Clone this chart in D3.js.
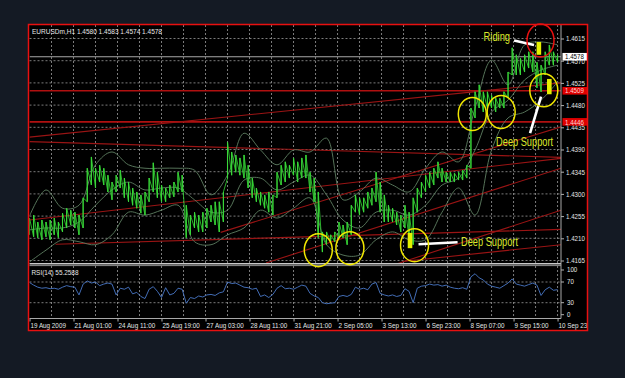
<!DOCTYPE html>
<html>
<head>
<meta charset="utf-8">
<script src="https://cdn.jsdelivr.net/npm/d3@7"></script>
<style>
  body { margin: 0; background: #141a24; }
  svg { display: block; }
</style>
</head>
<body>
<svg id="chart" width="625" height="378"></svg>
<script>
// ---- data ----
const symbol = 'EURUSDm,H1'
const lastOhlc = [1.4580, 1.4583, 1.4574, 1.4578]
const rsiTitle = 'RSI(14) 55.2588'

const dateLabels = ['19 Aug 2009', '21 Aug 01:00', '24 Aug 11:00', '25 Aug 19:00', '27 Aug 03:00',
  '28 Aug 11:00', '31 Aug 21:00', '2 Sep 05:00', '3 Sep 13:00', '6 Sep 23:00', '8 Sep 07:00',
  '9 Sep 15:00', '10 Sep 23:00']
const priceTicks = [1.4165, 1.4210, 1.4255, 1.4300, 1.4345, 1.4390, 1.4435, 1.4480, 1.4525, 1.4570, 1.4615]
const rsiTicks = [0, 30, 70, 100]

// H1 bars, one sample every 3 bars
const barHigh = [
  1.4251, 1.4257, 1.4243, 1.4247, 1.4243, 1.4247, 1.4251, 1.4243, 1.4261, 1.4271,
  1.4267, 1.4263, 1.4257, 1.4292, 1.4352, 1.4375, 1.4352, 1.4358, 1.4352, 1.4338,
  1.4324, 1.4338, 1.4348, 1.4332, 1.4324, 1.4312, 1.4304, 1.4298, 1.4304, 1.4332,
  1.4363, 1.4344, 1.4318, 1.4312, 1.4318, 1.4324, 1.4344, 1.4338, 1.4277, 1.4257,
  1.4263, 1.4257, 1.4263, 1.4271, 1.4277, 1.4284, 1.4284, 1.4304, 1.4405, 1.4385,
  1.4379, 1.4373, 1.4379, 1.4358, 1.4332, 1.4312, 1.4304, 1.4298, 1.4304, 1.4298,
  1.4344, 1.4358, 1.4365, 1.4358, 1.4373, 1.4365, 1.4373, 1.4379, 1.4344, 1.4332,
  1.4304, 1.4223, 1.4223, 1.4217, 1.4223, 1.4243, 1.4237, 1.4243, 1.4277, 1.4298,
  1.4292, 1.4292, 1.4304, 1.4312, 1.4344, 1.4324, 1.4298, 1.4277, 1.4271, 1.4263,
  1.4257, 1.4277, 1.4263, 1.4292, 1.4312, 1.4324, 1.4338, 1.4344, 1.4352, 1.4365,
  1.4352, 1.4344, 1.4344, 1.4342, 1.4344, 1.4348, 1.4358, 1.4474, 1.4507, 1.4521,
  1.4507, 1.4507, 1.4500, 1.4494, 1.4494, 1.4507, 1.4547, 1.4596, 1.4582, 1.4575,
  1.4582, 1.4588, 1.4588, 1.4567, 1.4561, 1.4588, 1.4602, 1.4588, 1.4582]
const barLow = [
  1.4217, 1.4213, 1.4211, 1.4207, 1.4213, 1.4207, 1.4217, 1.4211, 1.4223, 1.4231,
  1.4237, 1.4231, 1.4217, 1.4231, 1.4284, 1.4318, 1.4312, 1.4324, 1.4318, 1.4304,
  1.4288, 1.4304, 1.4312, 1.4292, 1.4284, 1.4277, 1.4271, 1.4261, 1.4257, 1.4284,
  1.4304, 1.4292, 1.4284, 1.4284, 1.4292, 1.4294, 1.4304, 1.4304, 1.4211, 1.4217,
  1.4231, 1.4223, 1.4223, 1.4231, 1.4243, 1.4237, 1.4223, 1.4243, 1.4332, 1.4338,
  1.4344, 1.4338, 1.4332, 1.4312, 1.4292, 1.4284, 1.4277, 1.4271, 1.4263, 1.4257,
  1.4292, 1.4318, 1.4324, 1.4332, 1.4338, 1.4324, 1.4332, 1.4332, 1.4304, 1.4284,
  1.4211, 1.4182, 1.4197, 1.4203, 1.4203, 1.4211, 1.4211, 1.4197, 1.4217, 1.4263,
  1.4257, 1.4263, 1.4271, 1.4277, 1.4284, 1.4263, 1.4243, 1.4243, 1.4243, 1.4237,
  1.4223, 1.4231, 1.4211, 1.4197, 1.4263, 1.4292, 1.4304, 1.4312, 1.4318, 1.4332,
  1.4324, 1.4324, 1.4324, 1.4324, 1.4328, 1.4328, 1.4332, 1.4352, 1.4454, 1.4474,
  1.4466, 1.4474, 1.4474, 1.4466, 1.4474, 1.4474, 1.4494, 1.4541, 1.4541, 1.4541,
  1.4547, 1.4555, 1.4547, 1.4515, 1.4507, 1.4541, 1.4561, 1.4561, 1.4567]

// Bollinger bands, one sample every 12 bars
const bandUpper = [1.4255, 1.4308, 1.4271, 1.4277, 1.4359, 1.4385, 1.4359, 1.4352, 1.4352, 1.4352, 1.4348,
  1.4298, 1.4338, 1.4423, 1.4389, 1.4359, 1.4389, 1.4385, 1.4413, 1.4288, 1.4304, 1.4332,
  1.4318, 1.4304, 1.4352, 1.4385, 1.4365, 1.4474, 1.4571, 1.4521, 1.4602, 1.4608, 1.4602]
const bandMiddle = [1.4227, 1.4231, 1.4231, 1.4243, 1.4277, 1.4308, 1.4324, 1.4308, 1.4312, 1.4312, 1.4288,
  1.4263, 1.4267, 1.4328, 1.4332, 1.4308, 1.4324, 1.4338, 1.4298, 1.4247, 1.4231, 1.4263,
  1.4267, 1.4257, 1.4277, 1.4318, 1.4332, 1.4389, 1.4466, 1.4490, 1.4531, 1.4551, 1.4561]
const bandLower = [1.4162, 1.4186, 1.4207, 1.4203, 1.4197, 1.4217, 1.4263, 1.4257, 1.4267, 1.4277, 1.4203,
  1.4197, 1.4217, 1.4231, 1.4267, 1.4251, 1.4271, 1.4292, 1.4197, 1.4176, 1.4176, 1.4207,
  1.4223, 1.4207, 1.4207, 1.4263, 1.4312, 1.4257, 1.4389, 1.4454, 1.4466, 1.4490, 1.4527]

// RSI(14), same sampling as the bars
const rsiValues = [
  69, 64, 60, 58, 59, 57, 58, 56, 60, 63, 61, 60, 45, 66, 72, 68, 70, 63, 66, 68,
  66, 45, 58, 56, 60, 47, 50, 42, 38, 56, 61, 52, 40, 59, 45, 48, 58, 56, 29, 40,
  38, 43, 41, 45, 46, 44, 49, 51, 70, 67, 68, 64, 60, 59, 56, 58, 42, 45, 40, 46,
  58, 63, 57, 58, 56, 60, 64, 62, 48, 43, 40, 30, 28, 29, 30, 42, 44, 42, 46, 60,
  56, 58, 55, 66, 69, 48, 45, 43, 45, 42, 44, 57, 52, 30, 58, 62, 63, 66, 64, 65,
  62, 64, 60, 58, 57, 59, 56, 80, 86, 78, 74, 66, 62, 60, 58, 63, 68, 76, 66, 64,
  62, 65, 68, 64, 44, 55, 60, 54, 55.26]

const levels = [1.4509, 1.4446]
const lastPrice = 1.4578

// trend lines: [bar1, price1, bar2, price2]
const trendLines = [
  [0, 1.4415, 386.5, 1.4525],
  [0, 1.4406, 386.5, 1.4374],
  [0, 1.4247, 386.5, 1.4372],
  [19, 1.4198, 386.5, 1.4228],
  [139, 1.4222, 386.5, 1.4436],
  [172, 1.4160, 386.5, 1.4352],
  [268, 1.4159, 386.5, 1.4267],
  [271, 1.4163, 386.5, 1.4197]]

// annotations (bar, price)
const supportCircles = [[210, 1.4186], [233, 1.4190], [280, 1.4196], [322, 1.4462], [343, 1.4466], [374, 1.4510]]
const ridingCircle = [371.6, 1.4611]
const signalBars = [[276.7, 1.4221, 1.4190], [370.4, 1.4608, 1.4582], [378, 1.4533, 1.4502]]
const pointers = [[282.9, 1.4198, 311.3, 1.4202], [352.4, 1.4611, 366.9, 1.4602], [372, 1.4497, 364, 1.4423]]
const notes = [['Riding', 330.2, 1.4610, 26.5], ['Deep Support', 339.3, 1.4398, 57], ['Deep Support', 313.8, 1.4194, 57]]

// ---- layout ----
const FONT = "'Liberation Sans', Arial, sans-serif"
const plotLeft = 29.5, plotRight = 561
const plotTop = 25, mainBottom = 263, rsiTop = 266, rsiBottom = 318.5

let x = d3.scaleLinear().domain([0, 386.5]).range([plotLeft, plotRight])
let y = d3.scaleLinear().domain([1.4165, 1.4615]).range([260.5, 38.5])
let yRsi = d3.scaleLinear().domain([0, 100]).range([318.2, 266.5])

// squeeze small labels to the narrow look of the terminal font
function condense(sel, f) {
  sel.each(function () {
    let w = this.getComputedTextLength()
    d3.select(this).attr('textLength', w * f).attr('lengthAdjust', 'spacingAndGlyphs')
  })
}

let svg = d3.select('#chart')
let defs = svg.append('defs')
defs.append('clipPath').attr('id', 'mainClip')
  .append('rect').attr('x', plotLeft).attr('y', plotTop).attr('width', plotRight - plotLeft).attr('height', mainBottom - plotTop)
defs.append('clipPath').attr('id', 'rsiClip')
  .append('rect').attr('x', plotLeft).attr('y', rsiTop).attr('width', plotRight - plotLeft).attr('height', rsiBottom - rsiTop)
defs.append('clipPath').attr('id', 'frameClip')
  .append('rect').attr('x', 29).attr('y', 25).attr('width', 558).attr('height', 305)

// black chart area
svg.append('rect').attr('x', 28.5).attr('y', 24.5).attr('width', 559).attr('height', 306).attr('fill', '#000')

// grid
let grid = svg.append('g').attr('stroke', '#9a9a9a').attr('stroke-width', 0.8).attr('stroke-dasharray', '2,2')
let gridBars = d3.range(16, 385, 16)
grid.selectAll('.vg').data(gridBars).join('line').attr('class', 'vg')
  .attr('x1', d => x(d)).attr('x2', d => x(d)).attr('y1', plotTop).attr('y2', mainBottom)
grid.selectAll('.vr').data(gridBars).join('line').attr('class', 'vr')
  .attr('x1', d => x(d)).attr('x2', d => x(d)).attr('y1', rsiTop).attr('y2', rsiBottom)
grid.selectAll('.hg').data(priceTicks).join('line').attr('class', 'hg')
  .attr('x1', plotLeft).attr('x2', plotRight).attr('y1', d => y(d)).attr('y2', d => y(d))
grid.selectAll('.hr').data([30, 70]).join('line').attr('class', 'hr')
  .attr('x1', plotLeft).attr('x2', plotRight).attr('y1', d => yRsi(d)).attr('y2', d => yRsi(d))

// main panel
let main = svg.append('g').attr('clip-path', 'url(#mainClip)')

main.append('line')
  .attr('x1', plotLeft).attr('x2', plotRight).attr('y1', y(lastPrice)).attr('y2', y(lastPrice))
  .attr('stroke', '#a8a8a8').attr('stroke-width', 1)

main.selectAll('.lvl').data(levels).join('line').attr('class', 'lvl')
  .attr('x1', plotLeft).attr('x2', plotRight).attr('y1', d => y(d)).attr('y2', d => y(d))
  .attr('stroke', '#b01010').attr('stroke-width', 1.6)

main.selectAll('.trend').data(trendLines).join('line').attr('class', 'trend')
  .attr('x1', d => x(d[0])).attr('y1', d => y(d[1]))
  .attr('x2', d => x(d[2])).attr('y2', d => y(d[3]))
  .attr('stroke', '#9a1414').attr('stroke-width', 1.1)

let bandLine = d3.line()
  .x((d, i) => x(i * 12))
  .y(d => y(d))
  .curve(d3.curveCatmullRom.alpha(0.5))
main.selectAll('.band').data([bandUpper, bandMiddle, bandLower]).join('path').attr('class', 'band')
  .attr('d', bandLine)
  .attr('fill', 'none').attr('stroke', '#5f7f62').attr('stroke-width', 0.9)

// price bars
let bars = barHigh.map((h, i) => ({bar: i * 3, high: h, low: barLow[i]}))
let zig = []
bars.forEach(b => { zig.push([b.bar, b.low]); zig.push([b.bar, b.high]) })
main.append('path')
  .attr('d', d3.line().x(d => x(d[0])).y(d => y(d[1]))(zig))
  .attr('fill', 'none').attr('stroke', '#2fc42f').attr('stroke-width', 0.9)
main.selectAll('.bar').data(bars).join('line').attr('class', 'bar')
  .attr('x1', d => x(d.bar)).attr('x2', d => x(d.bar))
  .attr('y1', d => y(d.high)).attr('y2', d => y(d.low))
  .attr('stroke', '#3ad83a').attr('stroke-width', 1.1)

// RSI
svg.append('g').attr('clip-path', 'url(#rsiClip)')
  .append('path')
  .attr('d', d3.line().x((d, i) => x(i * 3)).y(d => yRsi(d))(rsiValues))
  .attr('fill', 'none').attr('stroke', '#4a78c8').attr('stroke-width', 0.9)

// panel borders
svg.append('line').attr('x1', plotLeft).attr('x2', plotRight).attr('y1', 263.8).attr('y2', 263.8)
  .attr('stroke', '#c8c8c8').attr('stroke-width', 1.6)
svg.append('line').attr('x1', plotLeft).attr('x2', plotRight).attr('y1', 265.6).attr('y2', 265.6)
  .attr('stroke', '#8a8a8a').attr('stroke-width', 1)
svg.append('line').attr('x1', plotLeft).attr('x2', plotRight).attr('y1', rsiBottom).attr('y2', rsiBottom)
  .attr('stroke', '#a8a8a8').attr('stroke-width', 1)
svg.append('line').attr('x1', plotRight).attr('x2', plotRight).attr('y1', plotTop).attr('y2', rsiBottom)
  .attr('stroke', '#a8a8a8').attr('stroke-width', 1)

// axes
let labels = svg.append('g').attr('clip-path', 'url(#frameClip)')

function styleAxis(g) {
  g.select('.domain').remove()
  g.selectAll('line').attr('stroke', '#b0b0b0')
  g.selectAll('text').attr('fill', '#e6e6e6').style('font-family', FONT).style('font-size', '7.5px')
}

labels.append('g').attr('transform', `translate(${plotRight},0)`)
  .call(d3.axisRight(y).tickValues(priceTicks).tickFormat(d3.format('.4f')).tickSize(3).tickPadding(2))
  .call(styleAxis)
  .call(g => condense(g.selectAll('text'), 0.82))

labels.append('g').attr('transform', `translate(${plotRight},0)`)
  .call(d3.axisRight(yRsi).tickValues(rsiTicks).tickSize(3).tickPadding(3))
  .call(styleAxis)
  .call(g => g.selectAll('.tick').attr('transform', d => `translate(0,${Math.min(Math.max(yRsi(d), 270), 314.7)})`))
  .call(g => condense(g.selectAll('text'), 0.82))

labels.append('g').attr('transform', `translate(0,${rsiBottom})`)
  .call(d3.axisBottom(x).tickValues(d3.range(0, 385, 32)).tickFormat((d, i) => dateLabels[i]).tickSize(3).tickPadding(1))
  .call(styleAxis)
  .call(g => g.selectAll('text').attr('text-anchor', 'start').attr('dx', '0.5'))
  .call(g => condense(g.selectAll('text'), 0.84))

// price boxes
labels.selectAll('.lvlBox').data(levels).join('rect').attr('class', 'lvlBox')
  .attr('x', 562.5).attr('y', d => y(d) - 3.8).attr('width', 25).attr('height', 7.6).attr('fill', '#e00000')
labels.selectAll('.lvlTxt').data(levels).join('text').attr('class', 'lvlTxt')
  .attr('x', 565).attr('y', d => y(d) + 2.7).text(d => d.toFixed(4))
  .attr('fill', '#ffd6d6').style('font-family', FONT).style('font-size', '7.5px')
  .call(s => condense(s, 0.82))
labels.append('rect').attr('x', 562.5).attr('y', y(lastPrice) - 3.8).attr('width', 25).attr('height', 7.6)
  .attr('fill', '#fff')
labels.append('text').attr('x', 565).attr('y', y(lastPrice) + 2.7).text(lastPrice.toFixed(4))
  .attr('fill', '#000').style('font-family', FONT).style('font-size', '7.5px')
  .call(s => condense(s, 0.82))

// titles
svg.append('text').attr('x', 32).attr('y', 34)
  .text(symbol + '  ' + lastOhlc.map(v => v.toFixed(4)).join(' '))
  .attr('textLength', 130).attr('lengthAdjust', 'spacingAndGlyphs')
  .attr('fill', '#e6e6e6').style('font-family', FONT).style('font-size', '7.5px')
svg.append('text').attr('x', 31.5).attr('y', 274.5)
  .text(rsiTitle)
  .attr('textLength', 47).attr('lengthAdjust', 'spacingAndGlyphs')
  .attr('fill', '#e6e6e6').style('font-family', FONT).style('font-size', '7.5px')

// annotations
let notesG = svg.append('g')
notesG.selectAll('.sig').data(signalBars).join('rect').attr('class', 'sig')
  .attr('x', d => x(d[0]) - 2.3).attr('y', d => y(d[1])).attr('width', 4.6).attr('height', d => y(d[2]) - y(d[1]))
  .attr('fill', '#e4f000')
notesG.selectAll('.ptr').data(pointers).join('line').attr('class', 'ptr')
  .attr('x1', d => x(d[0])).attr('y1', d => y(d[1])).attr('x2', d => x(d[2])).attr('y2', d => y(d[3]))
  .attr('stroke', '#fff').attr('stroke-width', 2.6)
notesG.selectAll('.ring').data(supportCircles).join('ellipse').attr('class', 'ring')
  .attr('cx', d => x(d[0])).attr('cy', d => y(d[1])).attr('rx', 14).attr('ry', 16.5)
  .attr('fill', 'none').attr('stroke', '#f0e600').attr('stroke-width', 1.5)
notesG.append('ellipse')
  .attr('cx', x(ridingCircle[0])).attr('cy', y(ridingCircle[1])).attr('rx', 13.5).attr('ry', 16.5)
  .attr('fill', 'none').attr('stroke', '#e81010').attr('stroke-width', 1.5)
notesG.selectAll('.note').data(notes).join('text').attr('class', 'note')
  .text(d => d[0])
  .attr('fill', '#dde82c').style('font-family', FONT).style('font-size', '13px')
  .each(function (d) {
    let sx = d[3] / this.getComputedTextLength()
    d3.select(this).attr('transform', `translate(${x(d[1])},${y(d[2])}) scale(${sx},1)`)
  })

// outer red frame
svg.append('rect').attr('x', 28.5).attr('y', 24.5).attr('width', 559).attr('height', 306)
  .attr('fill', 'none').attr('stroke', '#e81010').attr('stroke-width', 1.5)
</script>
</body>
</html>
